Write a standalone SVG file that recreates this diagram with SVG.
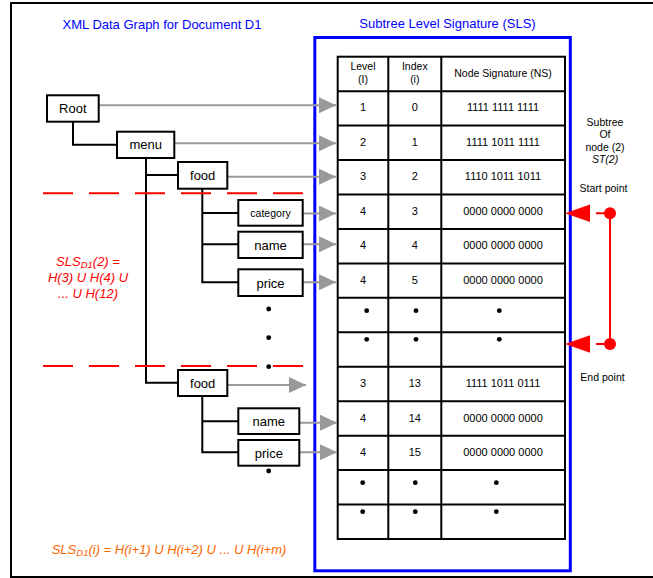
<svg xmlns="http://www.w3.org/2000/svg" width="653" height="578" viewBox="0 0 653 578">
<style>
text{font-family:"Liberation Sans",Arial,sans-serif;}
.box{fill:#fff;stroke:#000;stroke-width:2;}
.lbl{font-size:13px;fill:#000;text-anchor:middle;}
.sm{font-size:10.5px;fill:#000;text-anchor:middle;}
.d{font-size:11px;fill:#000;text-anchor:middle;}
.tree{fill:none;stroke:#000;stroke-width:2;}
.gray{fill:none;stroke:#999;stroke-width:2;marker-end:url(#ga);}
.dash{fill:none;stroke:#f00;stroke-width:2;stroke-dasharray:30 16;}
.grid{fill:none;stroke:#000;stroke-width:2;}
.dot{fill:#000;}
.blue{font-size:13px;fill:#0000ff;text-anchor:middle;}
.red{font-size:13px;fill:#f00;font-style:italic;text-anchor:middle;}
</style>
<defs>
<marker id="ga" viewBox="0 0 17 16" markerWidth="17" markerHeight="16" markerUnits="userSpaceOnUse" refX="17" refY="8" orient="auto">
<path d="M0,0 L17,8 L0,16 z" fill="#999"/>
</marker>
</defs>
<rect x="0" y="0" width="653" height="578" fill="#fff"/>
<rect x="11" y="3" width="660" height="574" fill="none" stroke="#000" stroke-width="2"/>

<text class="blue" x="162" y="29">XML Data Graph for Document D1</text>
<text class="blue" x="447.5" y="27.5">Subtree Level Signature (SLS)</text>

<rect x="314.8" y="37.5" width="255.5" height="533.3" fill="none" stroke="#0000ff" stroke-width="3"/>

<g id="table">
<rect class="grid" x="337.7" y="56.7" width="227.3" height="482.3"/>
<path class="grid" d="M388.3,56.7V539 M441.3,56.7V539 M337.7,91.15H565 M337.7,125.6H565 M337.7,160.05H565 M337.7,194.5H565 M337.7,228.95H565 M337.7,263.4H565 M337.7,297.85H565 M337.7,332.3H565 M337.7,366.75H565 M337.7,401.2H565 M337.7,435.65H565 M337.7,470.1H565 M337.7,504.55H565"/>
<text class="sm" x="363" y="70">Level</text>
<text class="sm" x="363" y="83">(I)</text>
<text class="sm" x="414.8" y="70">Index</text>
<text class="sm" x="414.8" y="83">(i)</text>
<text class="sm" x="503" y="77">Node Signature (NS)</text>
<text class="d" x="363" y="111">1</text><text class="d" x="414.8" y="111">0</text><text class="d" x="503" y="111">1111 1111 1111</text>
<text class="d" x="363" y="145.5">2</text><text class="d" x="414.8" y="145.5">1</text><text class="d" x="503" y="145.5">1111 1011 1111</text>
<text class="d" x="363" y="180">3</text><text class="d" x="414.8" y="180">2</text><text class="d" x="503" y="180">1110 1011 1011</text>
<text class="d" x="363" y="215">4</text><text class="d" x="414.8" y="215">3</text><text class="d" x="503" y="215">0000 0000 0000</text>
<text class="d" x="363" y="248.5">4</text><text class="d" x="414.8" y="248.5">4</text><text class="d" x="503" y="248.5">0000 0000 0000</text>
<text class="d" x="363" y="283.5">4</text><text class="d" x="414.8" y="283.5">5</text><text class="d" x="503" y="283.5">0000 0000 0000</text>
<text class="d" x="363" y="387">3</text><text class="d" x="414.8" y="387">13</text><text class="d" x="503" y="387">1111 1011 0111</text>
<text class="d" x="363" y="421.5">4</text><text class="d" x="414.8" y="421.5">14</text><text class="d" x="503" y="421.5">0000 0000 0000</text>
<text class="d" x="363" y="456">4</text><text class="d" x="414.8" y="456">15</text><text class="d" x="503" y="456">0000 0000 0000</text>
<circle class="dot" cx="366.7" cy="310.7" r="2.4"/><circle class="dot" cx="416" cy="310.7" r="2.4"/><circle class="dot" cx="499.3" cy="310.7" r="2.4"/>
<circle class="dot" cx="366.7" cy="339.3" r="2.4"/><circle class="dot" cx="416" cy="339.3" r="2.4"/><circle class="dot" cx="499.3" cy="339.3" r="2.4"/>
<circle class="dot" cx="362.7" cy="482.7" r="2.4"/><circle class="dot" cx="415.3" cy="482.7" r="2.4"/><circle class="dot" cx="496.3" cy="482.7" r="2.4"/>
<circle class="dot" cx="362.7" cy="511.7" r="2.4"/><circle class="dot" cx="415.3" cy="511.7" r="2.4"/><circle class="dot" cx="496.3" cy="511.7" r="2.4"/>
</g>

<g id="connectors">
<path class="tree" d="M73,122V144.7H117"/>
<path class="tree" d="M146,158V382.7H178 M146,175H178"/>
<path class="tree" d="M202.3,188.7V282.3H238.3 M202.3,213H238.3 M202.3,244.3H238.3"/>
<path class="tree" d="M202.3,396V452.3H238.3 M202.3,421.3H238.3"/>
<line class="gray" x1="99" y1="105.3" x2="336" y2="105.3"/>
<line class="gray" x1="174.3" y1="143.3" x2="336" y2="143.3"/>
<line class="gray" x1="227.3" y1="176.7" x2="336" y2="176.7"/>
<line class="gray" x1="302.7" y1="213.5" x2="336" y2="213.5"/>
<line class="gray" x1="302.7" y1="244.3" x2="336" y2="244.3"/>
<line class="gray" x1="302.7" y1="282.3" x2="336" y2="282.3"/>
<line class="gray" x1="227.3" y1="385" x2="306" y2="385"/>
<line class="gray" x1="299.3" y1="422.7" x2="337" y2="422.7"/>
<line class="gray" x1="299.3" y1="452.3" x2="337" y2="452.3"/>
<line class="dash" x1="43" y1="193.3" x2="303.5" y2="193.3"/>
<line class="dash" x1="43" y1="366" x2="303.5" y2="366"/>
<path d="M610,213.3V344 M596,213.3H610 M596,344H610" fill="none" stroke="#f00" stroke-width="2"/>
<polygon points="565,213.3 590,204.6 590,222" fill="#f00"/>
<polygon points="565,344 590,335.3 590,352.7" fill="#f00"/>
<circle cx="610" cy="213.3" r="6" fill="#f00"/>
<circle cx="610" cy="344" r="6" fill="#f00"/>
</g>

<g id="root"><rect class="box" x="47" y="95.3" width="51.7" height="26.4"/><text class="lbl" x="72.8" y="113">Root</text></g>
<g id="menu"><rect class="box" x="117" y="131.7" width="57.3" height="26.3"/><text class="lbl" x="145.7" y="149">menu</text></g>
<g id="food1"><rect class="box" x="178" y="162" width="49.3" height="26.7"/><text class="lbl" x="202.7" y="180">food</text></g>
<g id="category"><rect class="box" x="238.3" y="200" width="64.4" height="25.7"/><text class="sm" x="270.5" y="216.5">category</text></g>
<g id="name1"><rect class="box" x="238.3" y="231.7" width="64.4" height="26.3"/><text class="lbl" x="270.5" y="249.5">name</text></g>
<g id="price1"><rect class="box" x="238.3" y="269.3" width="64.4" height="26.7"/><text class="lbl" x="270.5" y="287.5">price</text></g>
<g id="food2"><rect class="box" x="178" y="370" width="49.3" height="26"/><text class="lbl" x="202.7" y="387.5">food</text></g>
<g id="name2"><rect class="box" x="238.3" y="408.3" width="61" height="25.7"/><text class="lbl" x="268.8" y="425.5">name</text></g>
<g id="price2"><rect class="box" x="238.3" y="440" width="61" height="25.7"/><text class="lbl" x="268.8" y="457.5">price</text></g>
<circle class="dot" cx="268.7" cy="309" r="2.4"/>
<circle class="dot" cx="268.7" cy="337.7" r="2.4"/>
<circle class="dot" cx="268.7" cy="366.7" r="2.4"/>
<circle class="dot" cx="268.7" cy="471" r="2.4"/>

<text class="red" x="88" y="266">SLS<tspan font-size="9.5" dy="2">D1</tspan><tspan dy="-2">(2) =</tspan></text>
<text class="red" x="88" y="282">H(3) U H(4) U</text>
<text class="red" x="88" y="297.5">... U H(12)</text>

<text x="51.7" y="553.5" font-size="13" font-style="italic" fill="#ff6600">SLS<tspan font-size="9.5" dy="2">D1</tspan><tspan dy="-2">(i) = H(i+1) U H(i+2) U ... U H(i+m)</tspan></text>

<text class="sm" x="605" y="125.5">Subtree</text>
<text class="sm" x="605" y="138">Of</text>
<text class="sm" x="605" y="150.5">node (2)</text>
<text class="sm" x="605" y="163" font-style="italic">ST(2)</text>
<text class="sm" x="603.5" y="192">Start point</text>
<text class="sm" x="602.5" y="381">End point</text>
</svg>
